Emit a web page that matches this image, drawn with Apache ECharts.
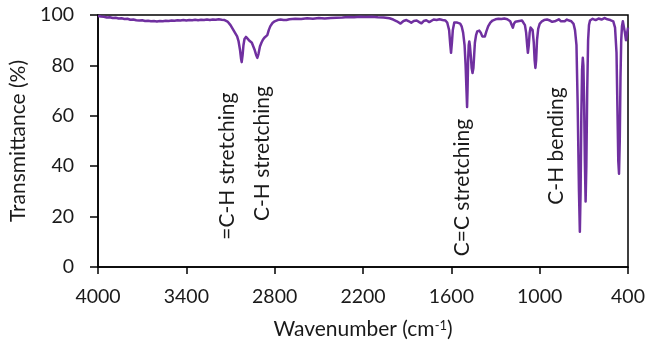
<!DOCTYPE html>
<html>
<head>
<meta charset="utf-8">
<style>
html, body { margin: 0; padding: 0; background: #fff; }
#chart { width: 649px; height: 349px; }
</style>
<script src="https://cdn.jsdelivr.net/npm/echarts@6/dist/echarts.min.js"></script>
</head>
<body>
<div id="chart"></div>
<script>
// FT-IR spectrum: wavenumber (cm-1) against transmittance (%)
const wavenumbers = [
  4000, 3980, 3960, 3940, 3920, 3900, 3880, 3860, 3840, 3820, 3800, 3780, 3760, 3740, 3720, 3700,
  3680, 3660, 3640, 3620, 3600, 3580, 3560, 3540, 3520, 3500, 3480, 3460, 3440, 3420, 3400, 3380,
  3360, 3340, 3320, 3300, 3280, 3260, 3240, 3220, 3200, 3180, 3160, 3140, 3120, 3100, 3085, 3075,
  3065, 3055, 3045, 3035, 3028, 3024, 3018, 3012, 3005, 2995, 2985, 2975, 2965, 2955, 2945, 2935,
  2925, 2918, 2910, 2900, 2890, 2880, 2870, 2860, 2850, 2840, 2830, 2815, 2800, 2780, 2760, 2740,
  2730, 2720, 2700, 2660, 2620, 2580, 2540, 2500, 2460, 2420, 2380, 2340, 2300, 2260, 2220, 2180,
  2140, 2100, 2060, 2020, 1995, 1970, 1945, 1925, 1905, 1888, 1872, 1855, 1835, 1818, 1803, 1788,
  1770, 1760, 1750, 1738, 1720, 1700, 1680, 1660, 1640, 1628, 1615, 1607, 1602, 1596, 1590, 1580,
  1570, 1560, 1550, 1540, 1530, 1520, 1510, 1503, 1497, 1493, 1490, 1486, 1482, 1478, 1474, 1468,
  1462, 1456, 1450, 1445, 1440, 1432, 1424, 1410, 1400, 1390, 1380, 1372, 1362, 1350, 1335, 1320,
  1300, 1280, 1260, 1240, 1220, 1200, 1190, 1182, 1175, 1165, 1157, 1148, 1135, 1120, 1110, 1100,
  1092, 1085, 1080, 1074, 1068, 1062, 1055, 1048, 1040, 1034, 1029, 1024, 1018, 1010, 1000, 985,
  970, 950, 930, 915, 906, 898, 885, 870, 855, 843, 830, 815, 800, 785, 770, 760,
  750, 742, 733, 727, 722, 717, 712, 707, 703, 698, 693, 688, 683, 677, 671, 665,
  658, 650, 640, 620, 600, 580, 560, 540, 520, 500, 488, 478, 471, 466, 461, 456,
  451, 446, 441, 435, 428, 421, 414, 407, 400
];
const transmittance = [
  99.6, 99.4, 99.3, 99.0, 99.1, 98.8, 98.9, 98.6, 98.7, 98.4, 98.5, 98.1, 98.2, 97.9, 97.8, 97.9,
  97.6, 97.7, 97.5, 97.6, 97.4, 97.6, 97.5, 97.7, 97.6, 97.8, 97.7, 97.9, 97.8, 98.0, 97.8, 98.0,
  97.9, 98.1, 97.9, 98.1, 98.0, 98.2, 98.0, 98.2, 98.1, 98.3, 98.1, 98.0, 97.4, 96.0, 94.5, 93.5,
  93.0, 91.5, 89.5, 86.0, 82.5, 81.3, 84.0, 88.0, 90.5, 91.3, 91.0, 90.0, 90.2, 89.0, 87.5, 86.0,
  84.0, 83.0, 84.5, 87.5, 89.0, 90.2, 91.0, 91.3, 92.0, 94.0, 95.5, 96.8, 97.5, 98.0, 98.2, 98.0,
  97.4, 98.0, 98.3, 98.5, 98.4, 98.7, 98.5, 98.8, 98.6, 98.8, 98.9, 99.0, 99.2, 99.1, 99.3, 99.2,
  99.3, 99.1, 99.0, 98.7, 98.2, 97.5, 96.6, 97.6, 98.0, 97.5, 96.9, 97.6, 97.8, 97.2, 96.7, 97.6,
  97.9, 97.6, 97.2, 97.8, 98.2, 98.0, 98.3, 98.0, 97.8, 97.0, 94.0, 88.0, 85.0, 89.0, 94.0, 97.0,
  97.4, 97.0, 97.2, 96.6, 95.5, 93.0, 88.0, 80.0, 70.0, 63.5, 70.0, 82.0, 88.0, 89.5, 88.0, 84.0,
  79.0, 77.0, 79.0, 84.0, 89.0, 92.0, 93.5, 93.8, 93.0, 91.5, 91.0, 91.5, 93.5, 95.5, 97.0, 97.8,
  98.3, 98.5, 98.4, 98.6, 98.3, 97.5, 96.0, 95.0, 96.5, 97.3, 96.7, 97.5, 97.8, 97.8, 97.3, 96.0,
  93.0, 88.0, 85.0, 88.0, 93.0, 95.0, 95.3, 94.0, 89.0, 82.0, 79.0, 82.0, 90.0, 94.5, 96.5, 97.5,
  98.0, 98.2, 97.8, 97.3, 96.8, 97.5, 98.0, 98.3, 97.5, 96.8, 97.5, 98.2, 97.8, 97.5, 96.5, 94.0,
  88.0, 65.0, 30.0, 14.0, 30.0, 60.0, 78.0, 83.0, 80.0, 65.0, 42.0, 26.0, 40.0, 70.0, 90.0, 96.0,
  97.8, 98.3, 98.5, 98.0, 98.6, 98.2, 98.8, 98.3, 98.0, 97.5, 95.0, 85.0, 60.0, 42.0, 37.0, 50.0,
  75.0, 90.0, 95.5, 97.5, 97.0, 93.0, 90.0, 92.5, 95.0
];
const xTicks = [4000, 3400, 2800, 2200, 1600, 1000, 400];
const yTicks = [0, 20, 40, 60, 80, 100];
const bandLabels = ['=C-H stretching', 'C-H stretching', 'C=C stretching', 'C-H bending'];

const FONT = 'Lato';
const INK = '#1a1a1a';
const LINE = '#7030A0';

const chart = echarts.init(document.getElementById('chart'), null, { renderer: 'canvas' });

chart.setOption({
  animation: false,
  backgroundColor: '#fff',
  grid: {
    left: 98, right: 21, top: 15, bottom: 82,
    show: true, borderColor: '#000', borderWidth: 1.5,
    containLabel: false, outerBoundsMode: 'none'
  },
  xAxis: {
    type: 'value',
    inverse: true,
    min: xTicks[xTicks.length - 1],
    max: xTicks[0],
    splitLine: { show: false },
    axisLine: { show: true, onZero: false, lineStyle: { color: '#000', width: 1.5 } },
    axisTick: { show: true, length: 7, lineStyle: { color: '#000', width: 1.5 }, customValues: xTicks },
    axisLabel: {
      customValues: xTicks,
      formatter: (v) => String(v),
      margin: 20, fontSize: 19.5, fontFamily: FONT, color: INK
    },
    name: '{t|Wavenumber (cm}{s|-1}{t|)}',
    nameLocation: 'middle',
    nameGap: 52,
    nameTextStyle: {
      rich: {
        t: { fontSize: 21, fontFamily: FONT, color: INK },
        s: { fontSize: 13, fontFamily: FONT, color: INK, verticalAlign: 'top' }
      }
    }
  },
  yAxis: {
    type: 'value',
    min: yTicks[0],
    max: yTicks[yTicks.length - 1],
    interval: yTicks[1] - yTicks[0],
    splitLine: { show: false },
    axisLine: { show: true, lineStyle: { color: '#000', width: 1.5 } },
    axisTick: { show: true, length: 8, lineStyle: { color: '#000', width: 1.5 } },
    axisLabel: { formatter: (v) => String(v), margin: 24, fontSize: 19.5, fontFamily: FONT, color: INK },
    name: 'Transmittance (%)',
    nameLocation: 'middle',
    nameGap: 62,
    nameTextStyle: { fontSize: 21, fontFamily: FONT, color: INK }
  },
  series: [{
    type: 'line',
    data: wavenumbers.map((w, i) => [w, transmittance[i]]),
    showSymbol: false,
    symbol: 'none',
    smooth: false,
    lineStyle: { color: LINE, width: 2.5, join: 'round' },
    z: 3
  }]
});

// Band assignments written vertically beside their absorptions,
// centred at [wavenumber, transmittance] in axis units.
const labelAnchors = [[3124, 40], [2886, 45], [1528, 31.5], [889, 48]];
chart.setOption({
  graphic: bandLabels.map((text, i) => {
    const p = chart.convertToPixel({ gridIndex: 0 }, labelAnchors[i]);
    return {
      type: 'text',
      x: p[0], y: p[1],
      rotation: Math.PI / 2,
      style: {
        text: text,
        fontSize: 21,
        fontFamily: FONT,
        fill: INK,
        align: 'center',
        verticalAlign: 'middle'
      },
      z: 10
    };
  })
});
</script>
</body>
</html>
